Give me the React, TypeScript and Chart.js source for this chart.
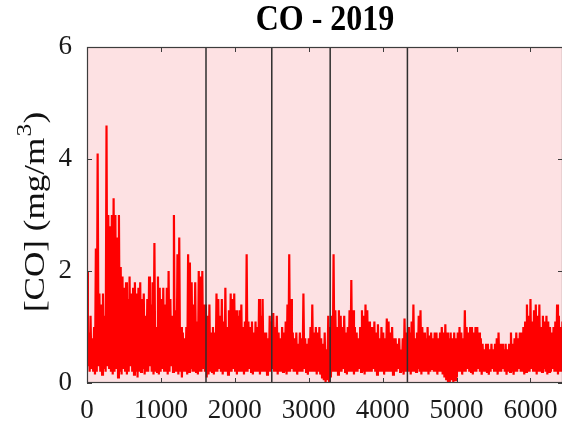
import { useEffect, useRef } from 'react';
import { Chart, registerables } from 'chart.js';

Chart.register(...registerables);

const FONT = "'Liberation Serif', 'Times New Roman', Times, serif";

const chartTitle = 'CO - 2019';
const yAxisTitleMain = '[CO] (mg/m';
const yAxisTitleSup = '3';
const yAxisTitleEnd = ')';
const xTickValues = [0, 1000, 2000, 3000, 4000, 5000, 6000];
const yTickValues = [0, 2, 4, 6];
const xMax = 6440;
const yMax = 6;
const hoursPerDay = 24;
// hours where the black separator lines are drawn
const seasonBreaks = [1610, 2500, 3290, 4335];

// daily maximum hourly CO (mg/m3), day 0 .. 268
const dailyMax = [
  2.0, 0.9, 1.2, 0.8, 1.0, 2.4, 4.1, 1.6, 1.4, 1.6,
  1.2, 4.6, 3.0, 2.8, 3.0, 3.3, 3.0, 2.6, 3.0, 2.07,
  1.9, 1.7, 1.8, 1.5, 1.9, 1.6, 1.7, 1.8, 1.6, 1.7,
  1.8, 1.5, 1.6, 1.2, 1.5, 1.9, 1.4, 1.8, 2.5, 1.0,
  1.9, 1.7, 1.5, 1.7, 1.4, 1.7, 2.0, 1.5, 1.2, 3.0,
  1.3, 2.3, 2.6, 1.0, 0.9, 0.8, 1.0, 2.3, 2.15, 1.8,
  1.4, 1.8, 1.1, 2.0, 1.9, 2.0, 1.4, 1.4, 1.2, 1.4,
  0.9, 1.0, 0.9, 1.6, 1.5, 1.2, 1.5, 1.1, 1.7, 1.0,
  1.3, 1.6, 1.5, 1.6, 1.3, 1.2, 1.3, 1.4, 1.0, 1.1,
  2.3, 1.1, 1.0, 1.1, 0.9, 1.1, 1.0, 1.5, 1.2, 1.5,
  0.9, 0.9, 0.8, 1.2, 1.1, 1.25, 1.0, 1.2, 0.9, 0.8,
  1.0, 0.9, 1.1, 1.4, 2.3, 1.5, 0.9, 0.8, 0.9, 0.7,
  0.9, 0.8, 1.6, 0.8, 0.7, 0.8, 1.0, 1.4, 0.9, 1.0,
  0.9, 1.0, 0.8, 0.7, 0.9, 0.6, 1.2, 1.0, 1.2, 2.3,
  1.3, 1.0, 1.3, 1.2, 1.0, 1.2, 0.9, 1.0, 1.3, 1.84,
  1.3, 1.0, 0.9, 0.8, 1.0, 1.3, 1.2, 1.4, 1.3, 1.1,
  1.0, 1.0, 1.1, 0.9, 1.05, 0.8, 1.0, 0.9, 0.8, 1.15,
  1.1, 0.9, 1.0, 0.8, 0.8, 0.7, 0.8, 0.6, 0.8, 1.15,
  0.9, 1.0, 0.9, 1.1, 1.4, 0.8, 0.9, 1.2, 1.3, 1.0,
  0.9, 0.8, 1.0, 0.85, 0.9, 0.8, 0.9, 0.9, 0.8, 0.9,
  1.0, 0.9, 1.05, 0.9, 0.8, 0.9, 0.8, 0.9, 0.8, 0.9,
  1.0, 0.9, 0.8, 1.3, 1.0, 0.9, 1.0, 1.0, 0.9, 1.0,
  1.0, 0.9, 0.8, 0.7, 0.6, 0.7, 0.7, 0.6, 0.7, 0.6,
  0.7, 0.8, 0.9, 0.7, 0.7, 0.6, 0.7, 0.6, 0.7, 0.9,
  0.7, 0.8, 0.9, 0.8, 0.9, 0.9, 1.0, 1.1, 1.4, 1.2,
  1.5, 1.1, 1.3, 1.4, 1.2, 1.4, 1.0, 1.2, 1.1, 1.2,
  1.1, 1.0, 0.9, 1.0, 1.1, 1.4, 1.2, 1.0, 1.1,
];

// daily minimum hourly CO (mg/m3), day 0 .. 268
const dailyMin = [
  0.3, 0.2, 0.25, 0.2, 0.15, 0.2, 0.3, 0.2, 0.15, 0.25,
  0.2, 0.3, 0.25, 0.2, 0.15, 0.2, 0.25, 0.1, 0.2, 0.15,
  0.25, 0.2, 0.15, 0.2, 0.3, 0.2, 0.15, 0.2, 0.1, 0.2,
  0.2, 0.25, 0.15, 0.2, 0.2, 0.3, 0.2, 0.15, 0.2, 0.2,
  0.15, 0.2, 0.25, 0.2, 0.2, 0.15, 0.2, 0.3, 0.2, 0.2,
  0.2, 0.15, 0.2, 0.1, 0.2, 0.2, 0.15, 0.2, 0.25, 0.2,
  0.2, 0.2, 0.15, 0.2, 0.2, 0.25, 0.2, 0.1, 0.15, 0.2,
  0.2, 0.15, 0.2, 0.2, 0.25, 0.2, 0.15, 0.2, 0.2, 0.15,
  0.2, 0.2, 0.25, 0.2, 0.15, 0.2, 0.2, 0.2, 0.15, 0.2,
  0.2, 0.25, 0.2, 0.15, 0.2, 0.2, 0.2, 0.15, 0.2, 0.2,
  0.2, 0.15, 0.2, 0.2, 0.25, 0.2, 0.2, 0.15, 0.2, 0.2,
  0.2, 0.2, 0.15, 0.2, 0.2, 0.25, 0.2, 0.2, 0.15, 0.2,
  0.2, 0.2, 0.25, 0.2, 0.15, 0.2, 0.2, 0.2, 0.2, 0.15,
  0.2, 0.15, 0.1, 0.05, 0.0, 0.05, 0.0, 0.1, 0.2, 0.2,
  0.2, 0.15, 0.2, 0.2, 0.25, 0.2, 0.15, 0.2, 0.2, 0.2,
  0.15, 0.2, 0.2, 0.25, 0.2, 0.2, 0.15, 0.2, 0.2, 0.2,
  0.2, 0.25, 0.2, 0.15, 0.2, 0.2, 0.2, 0.15, 0.2, 0.2,
  0.2, 0.2, 0.15, 0.2, 0.2, 0.25, 0.2, 0.2, 0.15, 0.2,
  0.2, 0.2, 0.15, 0.2, 0.2, 0.2, 0.25, 0.2, 0.15, 0.2,
  0.2, 0.2, 0.15, 0.2, 0.25, 0.2, 0.2, 0.15, 0.2, 0.2,
  0.15, 0.1, 0.05, 0.0, 0.0, 0.05, 0.0, 0.05, 0.1, 0.2,
  0.2, 0.15, 0.2, 0.2, 0.25, 0.2, 0.2, 0.15, 0.2, 0.2,
  0.25, 0.2, 0.15, 0.2, 0.2, 0.2, 0.15, 0.2, 0.25, 0.2,
  0.2, 0.15, 0.2, 0.2, 0.25, 0.2, 0.15, 0.2, 0.2, 0.2,
  0.15, 0.2, 0.2, 0.25, 0.2, 0.2, 0.15, 0.2, 0.2, 0.2,
  0.25, 0.2, 0.2, 0.15, 0.2, 0.2, 0.2, 0.25, 0.2, 0.15,
  0.2, 0.2, 0.25, 0.2, 0.2, 0.15, 0.2, 0.2, 0.2,
];

const framePlugin = {
  id: 'matlabFrame',
  beforeDraw(chart: any) {
    const { ctx, chartArea: a } = chart;
    ctx.save();
    ctx.fillStyle = '#fde1e3';
    ctx.fillRect(a.left, a.top, a.right - a.left, a.bottom - a.top);
    ctx.restore();
  },
  afterDatasetsDraw(chart: any) {
    const { ctx, chartArea: a, scales } = chart;
    const xs = scales.x;
    const ys = scales.y;
    ctx.save();
    // separators
    ctx.strokeStyle = '#2e2e2e';
    ctx.lineWidth = 1.5;
    seasonBreaks.forEach((h) => {
      const px = xs.getPixelForValue(h);
      ctx.beginPath();
      ctx.moveTo(px, a.top);
      ctx.lineTo(px, a.bottom);
      ctx.stroke();
    });
    // frame
    ctx.strokeStyle = '#3c3c3c';
    ctx.lineWidth = 1.2;
    ctx.strokeRect(a.left + 0.5, a.top + 0.5, a.right - a.left - 1, a.bottom - a.top - 1);
    // inward ticks
    const tl = 5;
    ctx.lineWidth = 1;
    ctx.beginPath();
    xTickValues.forEach((v) => {
      const px = Math.round(xs.getPixelForValue(v)) + 0.5;
      ctx.moveTo(px, a.bottom);
      ctx.lineTo(px, a.bottom - tl);
      ctx.moveTo(px, a.top);
      ctx.lineTo(px, a.top + tl);
    });
    yTickValues.forEach((v) => {
      const py = Math.round(ys.getPixelForValue(v)) + 0.5;
      ctx.moveTo(a.left, py);
      ctx.lineTo(a.left + tl, py);
      ctx.moveTo(a.right, py);
      ctx.lineTo(a.right - tl, py);
    });
    ctx.stroke();
    ctx.restore();
  },
  afterDraw(chart: any) {
    const { ctx, chartArea: a } = chart;
    // title, centred over the plot box
    ctx.save();
    ctx.fillStyle = '#000';
    ctx.textAlign = 'center';
    ctx.textBaseline = 'middle';
    ctx.translate((a.left + a.right) / 2, 21);
    ctx.scale(1, 1.12);
    ctx.font = `bold 32px ${FONT}`;
    ctx.fillText(chartTitle, 0, 0);
    ctx.restore();

    // y-axis label with superscript
    const size = 30;
    const supSize = Math.round(size * 0.72);
    ctx.save();
    ctx.fillStyle = '#111';
    ctx.textBaseline = 'alphabetic';
    ctx.textAlign = 'left';
    ctx.font = `normal ${size}px ${FONT}`;
    const wMain = ctx.measureText(yAxisTitleMain).width;
    const wEnd = ctx.measureText(yAxisTitleEnd).width;
    ctx.font = `normal ${supSize}px ${FONT}`;
    const wSup = ctx.measureText(yAxisTitleSup).width;
    const total = wMain + wSup + wEnd + 1;
    ctx.translate(44, (a.top + a.bottom) / 2 - 3);
    ctx.scale(1, 1.17);
    ctx.rotate(-Math.PI / 2);
    let x0 = -total / 2;
    ctx.font = `normal ${size}px ${FONT}`;
    ctx.fillText(yAxisTitleMain, x0, 0);
    x0 += wMain + 1;
    ctx.font = `normal ${supSize}px ${FONT}`;
    ctx.fillText(yAxisTitleSup, x0, -size * 0.42);
    x0 += wSup;
    ctx.font = `normal ${size}px ${FONT}`;
    ctx.fillText(yAxisTitleEnd, x0, 0);
    ctx.restore();
  },
};

export default function App() {
  const ref = useRef<HTMLCanvasElement>(null);

  useEffect(() => {
    if (!ref.current) return;
    const points: { x: number; y: number }[] = [];
    dailyMax.forEach((v, d) => {
      points.push({ x: d * hoursPerDay, y: v });
      points.push({ x: d * hoursPerDay + hoursPerDay / 2, y: dailyMin[d] });
    });

    const chart = new Chart(ref.current, {
      type: 'line',
      data: {
        datasets: [
          {
            data: points,
            borderColor: '#ff0000',
            borderWidth: 2.2,
            pointRadius: 0,
            tension: 0,
            fill: false,
          },
        ],
      },
      options: {
        animation: false,
        responsive: false,
        devicePixelRatio: 1,
        layout: { padding: { left: 0, right: 7, top: 47, bottom: 0 } },
        plugins: {
          legend: { display: false },
          tooltip: { enabled: false },
          title: { display: false },
        },
        scales: {
          x: {
            type: 'linear',
            min: 0,
            max: xMax,
            afterFit: (s: any) => {
              s.height = 40;
            },
            grid: { display: false, drawTicks: false },
            border: { display: false },
            afterBuildTicks: (s: any) => {
              s.ticks = xTickValues.map((v) => ({ value: v }));
            },
            ticks: {
              padding: 12,
              color: '#1a1a1a',
              font: { family: FONT, size: 27 },
              maxRotation: 0,
              autoSkip: false,
              callback: (v: any) => String(v),
            },
          },
          y: {
            min: 0,
            max: yMax,
            afterFit: (s: any) => {
              s.width = 87;
            },
            grid: { display: false, drawTicks: false },
            border: { display: false },
            afterBuildTicks: (s: any) => {
              s.ticks = yTickValues.map((v) => ({ value: v }));
            },
            ticks: {
              padding: 15,
              color: '#1a1a1a',
              font: { family: FONT, size: 27 },
              callback: (v: any) => String(v),
            },
            title: { display: false },
          },
        },
      } as any,
      plugins: [framePlugin],
    });
    return () => chart.destroy();
  }, []);

  return (
    <div
      style={{
        position: 'fixed',
        left: 0,
        top: 0,
        width: 562,
        height: 423,
        overflow: 'hidden',
        background: '#ffffff',
      }}
    >
      <canvas ref={ref} width={570} height={423} style={{ display: 'block' }} />
    </div>
  );
}
